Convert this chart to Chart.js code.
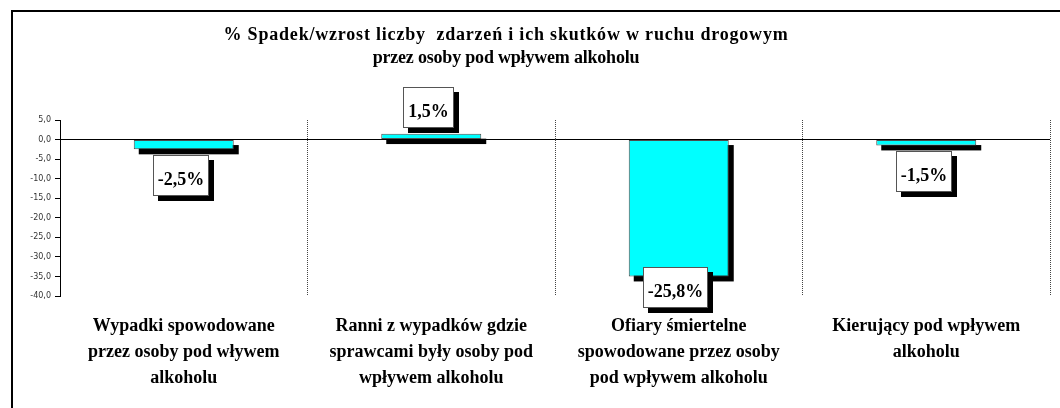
<!DOCTYPE html>
<html><head><meta charset="utf-8">
<script src="https://cdn.jsdelivr.net/npm/chart.js@4.4.0/dist/chart.umd.min.js"></script>
<style>
html,body{margin:0;padding:0;background:#fff;}
#wrap{position:relative;width:1060px;height:408px;overflow:hidden;}
#frame{position:absolute;left:11px;top:10px;width:1100px;height:500px;border-left:2px solid #000;border-top:2px solid #000;}
canvas{position:absolute;left:0;top:0;}
</style></head><body>
<div id="wrap"><div id="frame"></div><canvas id="c" width="1060" height="408"></canvas></div>
<script>
const categories = [
  ['Wypadki spowodowane', 'przez osoby pod wływem', 'alkoholu'],
  ['Ranni z wypadków gdzie', 'sprawcami były osoby pod', 'wpływem alkoholu'],
  ['Ofiary śmiertelne', 'spowodowane przez osoby', 'pod wpływem alkoholu'],
  ['Kierujący pod wpływem', 'alkoholu']
];
const barValues = [-2.5, 1.5, -35.0, -1.5];
const valueLabels = ['-2,5%', '1,5%', '-25,8%', '-1,5%'];
const yTickValues = [5, 0, -5, -10, -15, -20, -25, -30, -35, -40];
const titleLines = ['% Spadek/wzrost liczby  zdarzeń i ich skutków w ruchu drogowym', 'przez osoby pod wpływem alkoholu'];

const SERIF = '"Liberation Serif", "Times New Roman", serif';

const shadowPlugin = {
  id: 'barShadow',
  beforeDatasetsDraw(chart) {
    const ctx = chart.ctx;
    const meta = chart.getDatasetMeta(0);
    ctx.save();
    ctx.fillStyle = '#000';
    meta.data.forEach(b => {
      const p = b.getProps(['x', 'y', 'base', 'width'], true);
      const top = Math.min(p.y, p.base), h = Math.abs(p.base - p.y);
      ctx.fillRect(p.x - p.width / 2 + 5, top + 5, p.width, h);
    });
    ctx.restore();
  }
};

const labelPlugin = {
  id: 'valueBoxes',
  afterDatasetsDraw(chart) {
    const ctx = chart.ctx, area = chart.chartArea;
    const meta = chart.getDatasetMeta(0);
    ctx.save();
    ctx.font = 'bold 18px ' + SERIF;
    ctx.textAlign = 'center';
    ctx.textBaseline = 'alphabetic';
    meta.data.forEach((b, i) => {
      const txt = valueLabels[i];
      const w = Math.round(ctx.measureText(txt).width + 10), h = 41, sh = 5;
      const cx = Math.round(b.x - sh / 2);
      let top;
      if (barValues[i] >= 0) {
        top = b.y - 6 - h;
      } else {
        top = b.y + 5.5;
        if (top + h > area.bottom + 12) top = area.bottom + 12 - h;
      }
      top = Math.round(top);
      const left = cx - Math.round(w / 2);
      ctx.fillStyle = '#000';
      ctx.fillRect(left + sh, top + sh, w, h);
      ctx.fillStyle = '#fff';
      ctx.fillRect(left, top, w, h);
      ctx.strokeStyle = '#555';
      ctx.lineWidth = 1;
      ctx.strokeRect(left + 0.5, top + 0.5, w - 1, h - 1);
      ctx.fillStyle = '#000';
      ctx.fillText(txt, left + w / 2, top + h / 2 + 9);
    });
    ctx.restore();
  }
};

const titlePlugin = {
  id: 'titleText',
  afterDraw(chart) {
    const ctx = chart.ctx;
    ctx.save();
    ctx.font = 'bold 18px ' + SERIF;
    ctx.textAlign = 'center';
    ctx.textBaseline = 'alphabetic';
    ctx.fillStyle = '#000';
    const cx = 506;
    ctx.letterSpacing = '0.8px';
    ctx.fillText(titleLines[0], cx, 40);
    ctx.letterSpacing = '-0.2px';
    ctx.fillText(titleLines[1], cx, 63);
    ctx.restore();
  }
};

new Chart(document.getElementById('c'), {
  type: 'bar',
  data: {
    labels: categories,
    datasets: [{
      data: barValues,
      backgroundColor: '#00FFFF',
      borderColor: '#4d4d4d',
      borderWidth: 1,
      borderSkipped: false,
      categoryPercentage: 1,
      barPercentage: 0.404
    }]
  },
  options: {
    responsive: false,
    animation: false,
    devicePixelRatio: 1,
    layout: { padding: { top: 120, right: 10, left: 0, bottom: 0 } },
    plugins: { legend: { display: false }, title: { display: false }, tooltip: { enabled: false } },
    scales: {
      x: {
        grid: { display: true, offset: true, color: '#444', drawTicks: false, lineWidth: 1 },
        border: { display: false, dash: [1, 1] },
        ticks: {
          font: { family: SERIF, weight: 'bold', size: 18, lineHeight: 1.43 },
          color: '#000', padding: 17.6, maxRotation: 0, autoSkip: false
        },
        afterFit(s) { s.height = 112; }
      },
      y: {
        min: -40, max: 5,
        afterBuildTicks(s) { s.ticks = yTickValues.map(v => ({ value: v })); },
        ticks: {
          callback: v => Number(v).toFixed(1).replace('.', ','),
          font: { family: '"DejaVu Sans", sans-serif', size: 8 },
          color: '#333', padding: 4
        },
        grid: {
          color: c => (c.tick && c.tick.value === 0) ? '#000' : 'rgba(0,0,0,0)',
          tickColor: '#000', tickLength: 5, lineWidth: 1
        },
        border: { display: true, color: '#000', width: 1 },
        afterFit(s) { s.width = 60; }
      }
    }
  },
  plugins: [shadowPlugin, labelPlugin, titlePlugin]
});
</script>
</body></html>
